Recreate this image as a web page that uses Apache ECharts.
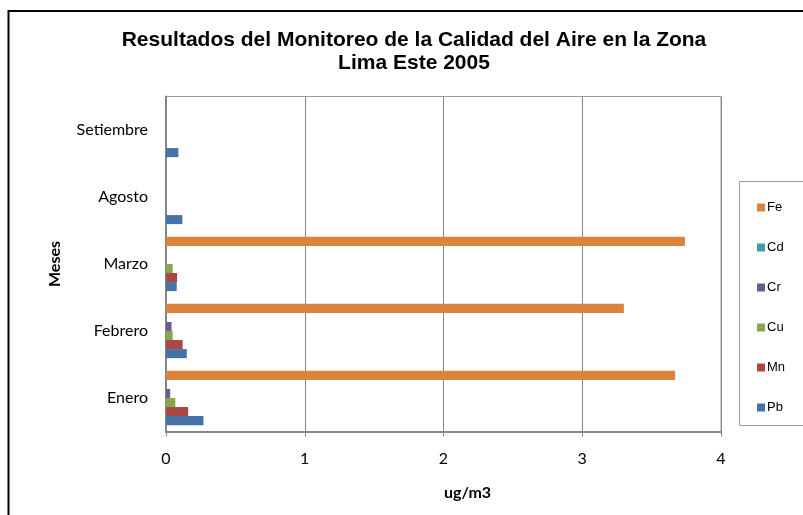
<!DOCTYPE html>
<html>
<head>
<meta charset="utf-8">
<script src="https://cdn.jsdelivr.net/npm/echarts@6/dist/echarts.min.js"></script>
<style>
html,body{margin:0;padding:0;background:#fff;}
#chart{width:803px;height:515px;}
</style>
</head>
<body>
<div id="chart"></div>
<script>
const categories = ['Enero', 'Febrero', 'Marzo', 'Agosto', 'Setiembre'];
const seriesNames = ['Fe', 'Cd', 'Cr', 'Cu', 'Mn', 'Pb'];
const fe = [3.67, 3.30, 3.74, null, null];
const cd = [0.003, 0.004, 0, null, null];
const cr = [0.03, 0.04, 0, null, null];
const cu = [0.067, 0.048, 0.048, null, null];
const mn = [0.16, 0.12, 0.08, null, null];
const pb = [0.27, 0.15, 0.077, 0.118, 0.089];
const xTicks = [0, 1, 2, 3, 4];
const colors = ['#DB843D', '#4198AF', '#71588F', '#89A54E', '#AA4643', '#4572A7'];

const values = [fe, cd, cr, cu, mn, pb];
const chart = echarts.init(document.getElementById('chart'), null, {renderer: 'canvas'});
const labelFont = 'Lato, "Open Sans", sans-serif';
chart.setOption({
  animation: false,
  color: colors,
  title: {
    text: 'Resultados del Monitoreo de la Calidad del Aire en la Zona\nLima Este 2005',
    left: 414,
    textAlign: 'center',
    top: 29,
    padding: 0,
    textStyle: {fontFamily: '"Liberation Sans", Arial, sans-serif', fontSize: 21, fontWeight: 'bold', color: '#000', lineHeight: 23}
  },
  graphic: [
    {type: 'rect', shape: {x: 8.5, y: 11, width: 900, height: 700}, style: {fill: 'none', stroke: '#000', lineWidth: 2}, silent: true},
    {type: 'rect', shape: {x: 739.5, y: 181.5, width: 100, height: 244}, style: {fill: 'none', stroke: '#9a9a9a', lineWidth: 1}, silent: true}
  ],
  legend: {
    data: seriesNames,
    orient: 'vertical',
    left: 757,
    top: 201,
    padding: 0,
    itemWidth: 8,
    itemHeight: 8,
    itemGap: 27,
    icon: 'rect',
    textStyle: {fontFamily: '"Liberation Sans", Arial, sans-serif', fontSize: 13, color: '#000', padding: [0, 0, 0, -3]}
  },
  grid: {left: 166, right: 82, top: 96.5, bottom: 83.5, containLabel: false, show: true, borderColor: '#9a9a9a', borderWidth: 1},
  xAxis: {
    type: 'value',
    min: 0, max: 4, interval: 1,
    name: 'ug/m3',
    nameLocation: 'middle',
    nameGap: 53,
    nameTextStyle: {fontFamily: labelFont, fontSize: 16, fontWeight: 'bold', color: '#000', padding: [0, 0, 0, 48]},
    axisLine: {show: true, lineStyle: {color: '#868686', width: 2}},
    axisTick: {show: true, length: 5, lineStyle: {color: '#868686', width: 1}},
    axisLabel: {margin: 19, fontFamily: labelFont, fontSize: 16, color: '#000',
      formatter: v => xTicks.indexOf(v) >= 0 ? String(v) : ''},
    splitLine: {show: true, lineStyle: {color: '#878787', width: 1}}
  },
  yAxis: {
    type: 'category',
    data: categories,
    name: 'Meses',
    nameLocation: 'middle',
    nameRotate: 90,
    nameGap: 103,
    nameTextStyle: {fontFamily: labelFont, fontSize: 16, fontWeight: 'bold', color: '#000'},
    axisLine: {show: true, lineStyle: {color: '#868686', width: 2}},
    axisTick: {show: false},
    axisLabel: {margin: 18, fontFamily: labelFont, fontSize: 16, color: '#000'},
    splitLine: {show: false}
  },
  series: seriesNames.map((n, i) => ({
    name: n,
    type: 'bar',
    data: values[i],
    barGap: '0%',
    barCategoryGap: '19%',
    itemStyle: {color: colors[i]}
  }))
});
</script>
</body>
</html>
